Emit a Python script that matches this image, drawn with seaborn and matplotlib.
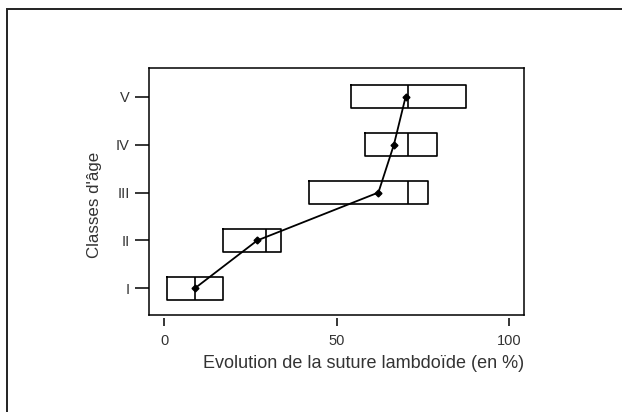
import numpy as np
import pandas as pd
import matplotlib
matplotlib.use("Agg")
import matplotlib.pyplot as plt
import seaborn as sns

# Data
classes = ["I", "II", "III", "IV", "V"]
q1 = [0.7, 17.1, 42.1, 58.2, 54.2]
median = [8.9, 29.4, 70.8, 70.8, 70.8]
q3 = [17.1, 33.8, 76.6, 79.2, 87.6]
mean = [8.9, 27.0, 62.1, 66.6, 70.0]
xticks = [0, 50, 100]

sns.set_style("white")
plt.rcParams["font.family"] = ["Liberation Sans", "DejaVu Sans"]

# Build a 5-value sample per class whose quartiles are q1, median, q3
rows = []
for c, a, m, b in zip(classes, q1, median, q3):
    for v in (a, a, m, b, b):
        rows.append({"classe": c, "valeur": v})
df = pd.DataFrame(rows)
dmean = pd.DataFrame({"classe": classes, "moyenne": mean})

order = classes[::-1]  # V at top

fig = plt.figure(figsize=(6.22, 4.12), dpi=100)
ax = fig.add_axes([0.240, 0.2354, 0.603, 0.5988])

sns.boxplot(data=df, x="valeur", y="classe", order=order, orient="h",
            whis=0, showcaps=False, showfliers=False, width=0.49,
            fill=False, color="black", linewidth=1.2, ax=ax,
            medianprops={"color": "black", "linewidth": 1.2},
            whiskerprops={"linewidth": 0})
sns.pointplot(data=dmean, x="moyenne", y="classe", order=order, orient="h",
              color="black", markers="D", markersize=3.5, linewidth=1.3,
              errorbar=None, ax=ax)

ax.set_xlim(-4.3, 104.4)
ax.set_ylim(4.557, -0.593)

for s in ax.spines.values():
    s.set_visible(True)
    s.set_color("black")
    s.set_linewidth(1.1)

# y ticks
ax.tick_params(axis="y", which="both", left=True, direction="out", length=10,
               width=1.1, color="black", pad=4, labelsize=10.5, labelcolor="#333333")
ax.set_ylabel("")
fig.text(95 / 622, 1 - 205 / 412, "Classes d'âge", rotation=90, fontsize=12.2,
         color="#333333", ha="center", va="center")

# x ticks detached below axes
ax.set_xticks([])
ax.set_xlabel("")
sec = ax.secondary_xaxis(-0.012)
sec.set_xticks(xticks)
sec.set_xticklabels([str(t) for t in xticks])
sec.spines["bottom"].set_visible(False)
sec.tick_params(axis="x", direction="out", length=5.5, width=1.1, color="black",
                pad=6, labelsize=10.5, labelcolor="#333333")
fig.text(363.4 / 622, 1 - 363 / 412, "Evolution de la suture lambdoïde (en %)",
         fontsize=13, color="#333333", ha="center", va="center")

# outer frame (top and left visible)
frame = plt.Rectangle((6.5 / 622, -0.05), 1.2, 1 - 8.5 / 412 + 0.05,
                      transform=fig.transFigure, fill=False,
                      edgecolor="#222222", linewidth=1.4, clip_on=False)
fig.add_artist(frame)

fig.savefig("out.png", dpi=100)
